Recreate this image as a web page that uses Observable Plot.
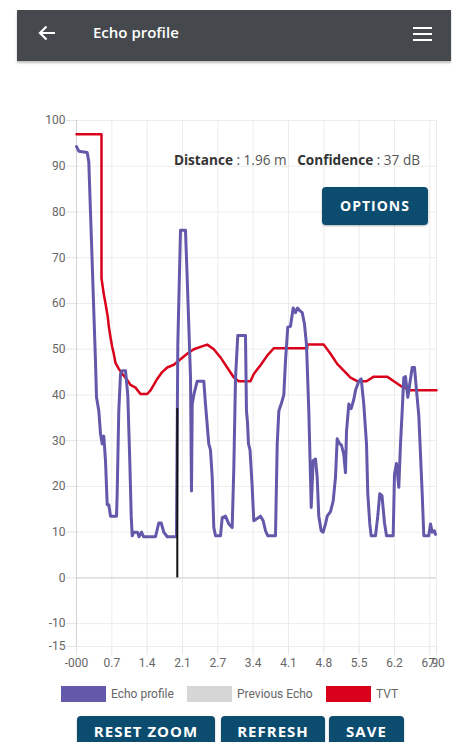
<!DOCTYPE html>
<html>
<head>
<meta charset="utf-8">
<script src="https://cdn.jsdelivr.net/npm/d3@7"></script>
<script src="https://cdn.jsdelivr.net/npm/@observablehq/plot@0.6"></script>
<style>
  html, body { margin: 0; padding: 0; background: #fff; }
  body { width: 459px; height: 742px; position: relative; overflow: hidden; font-family: "Open Sans", sans-serif; }
  #bar { position: absolute; left: 17px; top: 10px; width: 434px; height: 51px; background: #45494d; box-shadow: 0 2px 2px rgba(0,0,0,0.25); }
  #arrow { position: absolute; left: 20px; top: 13px; width: 20px; height: 20px; }
  #title { position: absolute; left: 76px; top: 12px; color: #fff; font-size: 15px; font-weight: 600; }
  #menu { position: absolute; left: 396px; top: 17px; width: 19px; }
  #menu div { height: 2px; background: #fff; margin-bottom: 4px; }
  #chart { position: absolute; left: 0; top: 0; }
  #info { position: absolute; right: 39px; top: 150px; font-size: 13.6px; color: #555; white-space: pre; }
  #info b { color: #333; font-weight: 700; }
  .btn { position: absolute; background: #0c4c6f; color: #fff; font-weight: 700; border-radius: 4px; text-align: center; letter-spacing: 1px; box-shadow: 0 1px 2px rgba(0,0,0,0.3); }
  #options { left: 322px; top: 187px; width: 106px; height: 38px; line-height: 38px; font-size: 14px; }
  #legend { position: absolute; top: 685px; left: 0; width: 459px; font-family: Roboto, sans-serif; font-size: 12px; color: #666; }
  .sw { position: absolute; top: 1px; width: 45px; height: 16px; }
  .lt { position: absolute; top: 0px; line-height: 18px; }
  .bb { top: 716px; height: 30px; line-height: 30px; font-size: 15px; }
</style>
</head>
<body>
<div id="bar">
  <svg id="arrow" viewBox="0 0 20 20"><path d="M18 10 H3 M9.5 3.5 L3 10 L9.5 16.5" stroke="#fff" stroke-width="2.2" fill="none"/></svg>
  <div id="title">Echo profile</div>
  <div id="menu"><div></div><div></div><div></div></div>
</div>
<div id="chart"></div>
<div id="info"></div>
<div class="btn" id="options">OPTIONS</div>
<div id="legend"></div>
<div class="btn bb" style="left:77px;width:138px;">RESET ZOOM</div>
<div class="btn bb" style="left:221px;width:104px;">REFRESH</div>
<div class="btn bb" style="left:329px;width:75px;">SAVE</div>
<script>
// ---- data ----
const echoX = [0, 0.045, 0.208, 0.239, 0.272, 0.305, 0.336, 0.369, 0.389, 0.434, 0.467, 0.500, 0.531, 0.564, 0.597, 0.628, 0.661, 0.778, 0.791, 0.822, 0.856, 0.889, 0.953, 0.997, 1.036, 1.064, 1.083, 1.114, 1.186, 1.215, 1.264, 1.303, 1.536, 1.600, 1.647, 1.697, 1.764, 1.944, 1.970, 2.022, 2.119, 2.152, 2.217, 2.236, 2.250, 2.281, 2.347, 2.475, 2.508, 2.572, 2.605, 2.639, 2.670, 2.703, 2.800, 2.833, 2.897, 2.961, 3.027, 3.059, 3.092, 3.136, 3.286, 3.305, 3.325, 3.344, 3.374, 3.416, 3.447, 3.514, 3.578, 3.630, 3.675, 3.720, 3.869, 3.903, 3.934, 3.980, 4.031, 4.064, 4.108, 4.161, 4.213, 4.258, 4.297, 4.336, 4.389, 4.433, 4.472, 4.517, 4.550, 4.564, 4.602, 4.647, 4.680, 4.711, 4.758, 4.797, 4.842, 4.875, 4.939, 4.991, 5.036, 5.069, 5.120, 5.153, 5.197, 5.230, 5.250, 5.295, 5.341, 5.392, 5.425, 5.489, 5.536, 5.586, 5.639, 5.664, 5.703, 5.730, 5.814, 5.858, 5.897, 5.940, 5.989, 6.028, 6.158, 6.183, 6.222, 6.267, 6.300, 6.333, 6.364, 6.397, 6.442, 6.475, 6.527, 6.572, 6.611, 6.656, 6.722, 6.753, 6.850, 6.883, 6.916, 6.961, 6.980];
const echoY = [94.3, 93.3, 93, 91, 80, 69, 58.4, 47.5, 39.5, 36.5, 31.5, 29.3, 31, 25.6, 16, 16, 13.5, 13.5, 18.4, 36.5, 44.6, 45.3, 45.3, 40, 25.6, 13.5, 9.2, 10, 10, 9, 10, 9, 9, 12, 12, 10, 9, 9, 51, 76, 76, 65.7, 43.8, 19, 38, 40, 43, 43, 38, 29.3, 28, 22, 11, 9.2, 9.2, 13.2, 13.5, 11.8, 11, 24, 43.8, 53, 53, 36.5, 34, 29.3, 28, 20, 12.5, 13, 13.5, 12.5, 10.3, 9.2, 9.2, 29.3, 36.5, 38, 40, 47.5, 54.8, 55, 59, 58, 59, 58.5, 58, 55.5, 51, 36.5, 22, 15.4, 25.6, 26, 22, 13.5, 10.3, 10, 11.8, 13.5, 14.5, 16.8, 22, 30.4, 29.3, 29, 27, 23, 32, 38, 37, 39, 41, 43, 43.5, 38, 29.3, 18.4, 11.8, 9.2, 9.2, 13.5, 18.4, 18, 12, 9.2, 9.2, 22.7, 25, 19.8, 29.3, 36.5, 43.8, 44, 39.5, 42, 46, 46, 41, 35.5, 18.4, 9.2, 9.2, 11.8, 10, 10.3, 9.5];
const tvtX = [0, 0.486, 0.486, 0.531, 0.564, 0.609, 0.628, 0.661, 0.694, 0.725, 0.758, 0.822, 0.889, 0.953, 1.050, 1.147, 1.244, 1.375, 1.439, 1.503, 1.569, 1.666, 1.764, 1.892, 2.022, 2.152, 2.281, 2.411, 2.542, 2.670, 2.800, 2.930, 3.059, 3.156, 3.383, 3.447, 3.578, 3.708, 3.836, 4.486, 4.486, 4.808, 4.939, 5.069, 5.197, 5.328, 5.458, 5.639, 5.781, 6.041, 6.170, 6.300, 6.494, 7.0];
const tvtY = [97, 97, 65.5, 62, 60, 57, 55, 52.6, 50.5, 49, 47, 45.7, 44.6, 43.8, 42.2, 41.6, 40.2, 40.2, 41, 42.2, 43.5, 45, 46, 46.6, 47.8, 49, 50, 50.5, 51, 50, 48.2, 46, 43.8, 43, 43, 44.6, 46.5, 48.6, 50.2, 50.2, 51, 51, 49, 46.8, 45.3, 43.8, 43, 43, 44, 44, 43, 42, 41, 41];
const distance = 1.96;     // m
const confidence = 37;     // dB
const yTicks = [100, 90, 80, 70, 60, 50, 40, 30, 20, 10, 0, -10, -15];
const xTickValues = [0, 0.687, 1.374, 2.061, 2.748, 3.435, 4.122, 4.809, 5.496, 6.183, 6.87, 7.0];
const xTickLabels = ["-000", "0.7", "1.4", "2.1", "2.7", "3.4", "4.1", "4.8", "5.5", "6.2", "6.9", "7.0"];
const legendItems = ["Echo profile", "Previous Echo", "TVT"];
const legendColors = ["#6359ab", "#d6d6d6", "#d9001b"];

const echo = echoX.map((x, i) => ({x, y: echoY[i]}));
const tvt = tvtX.map((x, i) => ({x, y: tvtY[i]}));
const xLabel = new Map(xTickValues.map((v, i) => [v, xTickLabels[i]]));

const chart = Plot.plot({
  width: 459,
  height: 680,
  marginLeft: 76,
  marginRight: 23,
  marginTop: 120,
  marginBottom: 34,
  style: {fontFamily: "Roboto, sans-serif", fontSize: "12px", background: "transparent"},
  x: {domain: [0, 7.0], axis: null},
  y: {domain: [-15, 100], axis: null},
  marks: [
    Plot.gridY(yTicks, {stroke: "#ececec", strokeOpacity: 1}),
    Plot.gridX(xTickValues, {stroke: "#ececec", strokeOpacity: 1}),
    Plot.ruleY([0], {stroke: "#cfcfcf", strokeWidth: 1}),
    Plot.ruleX([0], {stroke: "#d4d4d4", strokeWidth: 1}),
    Plot.axisY(yTicks, {label: null, tickSize: 10, tickPadding: 1, stroke: "#e4e4e4", fill: "#666", tickFormat: d => String(d)}),
    Plot.axisX(xTickValues, {label: null, tickSize: 9, tickPadding: 3, stroke: "#e4e4e4", fill: "#666", tickFormat: d => xLabel.get(d)}),
    Plot.line(tvt, {x: "x", y: "y", stroke: legendColors[2], strokeWidth: 2.5}),
    Plot.line(echo, {x: "x", y: "y", stroke: legendColors[0], strokeWidth: 3, strokeLinejoin: "round"}),
    Plot.ruleX([distance], {y1: 0, y2: confidence, stroke: "#111", strokeWidth: 2})
  ]
});
document.getElementById("chart").appendChild(chart);

document.getElementById("info").innerHTML =
  `<b>Distance</b> : ${distance.toFixed(2)} m   <b>Confidence</b> : ${confidence} dB`;

const legend = document.getElementById("legend");
const swLeft = [61, 187, 326];
legendItems.forEach((name, i) => {
  const sw = document.createElement("div");
  sw.className = "sw";
  sw.style.left = swLeft[i] + "px";
  sw.style.background = legendColors[i];
  legend.appendChild(sw);
  const t = document.createElement("div");
  t.className = "lt";
  t.style.left = (swLeft[i] + 50) + "px";
  t.textContent = name;
  legend.appendChild(t);
});
</script>
</body>
</html>
